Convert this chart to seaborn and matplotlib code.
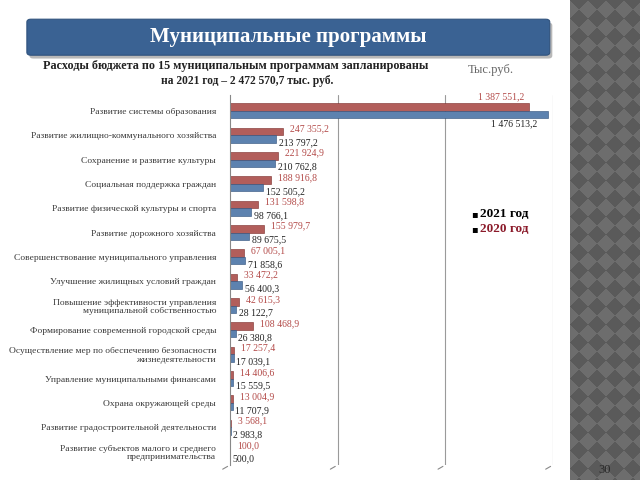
import numpy as np
import pandas as pd
import seaborn as sns
import matplotlib.pyplot as plt
from matplotlib.patches import FancyBboxPatch

categories = [
    "Развитие системы образования",
    "Развитие жилищно-коммунального хозяйства",
    "Сохранение и развитие культуры",
    "Социальная поддержка граждан",
    "Развитие физической культуры и спорта",
    "Развитие дорожного хозяйства",
    "Совершенствование муниципального управления",
    "Улучшение жилищных условий граждан",
    "Повышение эффективности управления\nмуниципальной собственностью",
    "Формирование современной городской среды",
    "Осуществление мер по обеспечению безопасности\nжизнедеятельности",
    "Управление муниципальными финансами",
    "Охрана окружающей среды",
    "Развитие градостроительной деятельности",
    "Развитие субъектов малого и среднего\nпредпринимательства",
]
values_2020 = [1387551.2, 247355.2, 221924.9, 188916.8, 131598.8, 155979.7, 67005.1,
               33472.2, 42615.3, 108468.9, 17257.4, 14406.6, 13004.9, 3568.1, 100.0]
values_2021 = [1476513.2, 213797.2, 210762.8, 152505.2, 98766.1, 89675.5, 71858.6,
               56400.3, 28122.7, 26380.8, 17039.1, 15559.5, 11707.9, 2983.8, 500.0]
years = ["2020 год", "2021 год"]

df = pd.DataFrame({
    "cat": categories * 2,
    "value": values_2020 + values_2021,
    "year": [years[0]] * len(categories) + [years[1]] * len(categories),
})

def fmt(v):
    return f"{v:,.1f}".replace(",", " ").replace(".", ",")

serif = ["Liberation Serif", "DejaVu Serif"]
sns.set_style("white")
plt.rcParams["font.family"] = serif

fig = plt.figure(figsize=(6.4, 4.8), dpi=100)
fig.patch.set_facecolor("white")

# slide banner
shadow = FancyBboxPatch((0.046, 0.878), 0.817, 0.075, boxstyle="round,pad=0,rounding_size=0.006",
                        transform=fig.transFigure, facecolor="#8a8a8a", edgecolor="none", alpha=0.6)
banner = FancyBboxPatch((0.042, 0.885), 0.817, 0.075, boxstyle="round,pad=0,rounding_size=0.006",
                        transform=fig.transFigure, facecolor="#3a6293", edgecolor="#2f527d", lw=0.8)
fig.patches.extend([shadow, banner])
fig.text(0.45, 0.922, "Муниципальные программы", color="white", fontsize=15,
         fontweight="bold", ha="center", va="center")
fig.text(236 / 640, 1 - 66 / 480, "Расходы бюджета по 15 муниципальным программам запланированы",
         fontsize=8.7, fontweight="bold", ha="center", va="center", color="#222222")
fig.text(247 / 640, 1 - 81 / 480, "на 2021 год – 2 472 570,7 тыс. руб.",
         fontsize=8.3, fontweight="bold", ha="center", va="center", color="#222222")
fig.text(491 / 640, 1 - 70 / 480, "Тыс.руб.", fontsize=9, ha="center", va="center", color="#666666")

# decorative right panel
pax = fig.add_axes([570 / 640, 0, 70 / 640, 1])
yy, xx = np.mgrid[0:480, 0:70]
pattern = (((xx + yy) // 18) + ((xx - yy) // 18)) % 2
pax.imshow(pattern, cmap=plt.matplotlib.colors.ListedColormap(["#5a5a5a", "#6d6d6d"]),
           aspect="auto", interpolation="nearest")
pax.axis("off")
fig.text(605 / 640, 1 - 470 / 480, "30", fontsize=9, color="#2a2a2a", ha="center", va="center")

# main chart
ax = fig.add_axes([230 / 640, 15 / 480, 323 / 640, 370 / 480])
sns.barplot(data=df, y="cat", x="value", hue="year", hue_order=years, orient="h",
            palette=["#c0504d", "#4f81bd"], width=0.62, ax=ax, legend=False,
            edgecolor="#7a2a28", linewidth=0.4)
for bar in ax.patches[len(categories):]:
    bar.set_edgecolor("#2c4d7a")

ax.set_xlim(0, 1500000)
ax.set_ylim(len(categories) - 0.45, -0.65)
ax.set_xlabel("")
ax.set_ylabel("")
ax.set_xticks([500000, 1000000, 1500000])
ax.set_xticklabels([])
ax.tick_params(axis="x", length=0)
ax.grid(axis="x", color="#9a9a9a", lw=0.8)
ax.set_yticks(range(len(categories)))
ax.set_yticklabels(categories, fontsize=6.8, color="#3a3a3a", linespacing=1.1)
ax.tick_params(axis="y", length=0, pad=10)
ax.set_yticks(np.arange(-0.5, len(categories), 1), minor=True)
ax.tick_params(axis="y", which="minor", length=4, direction="out", color="#888888")
for s in ["top", "right", "bottom"]:
    ax.spines[s].set_visible(False)
ax.spines["left"].set_color("#888888")
ax.spines["left"].set_linewidth(0.8)

# floor slants at the bottom of the walls
for xv in [0, 500000, 1000000, 1500000]:
    ax.annotate("", xy=(xv, len(categories) - 0.45), xytext=(-7, -4), textcoords="offset points",
                arrowprops=dict(arrowstyle="-", color="#888888", lw=0.8), annotation_clip=False)

# value labels
for i in range(len(categories)):
    v0, v1 = values_2020[i], values_2021[i]
    if v1 > 1000000:
        ax.text(v0 - 20000, i - 0.38, fmt(v0), fontsize=7, color="#b34a48", ha="right", va="bottom")
        ax.text(v1 - 50000, i + 0.36, fmt(v1), fontsize=7, color="#222222", ha="right", va="top")
    else:
        ax.annotate(fmt(v0), (v0, i - 0.2), xytext=(5, 1), textcoords="offset points",
                    fontsize=7, color="#b34a48", va="center")
        ax.annotate(fmt(v1), (v1, i + 0.2), xytext=(2, -2), textcoords="offset points",
                    fontsize=7, color="#222222", va="center")

# legend as slide text
fig.text(471 / 640, 1 - 214 / 480, "▪", fontsize=7, color="black", va="center",
         family=["DejaVu Sans"])
fig.text(480 / 640, 1 - 214 / 480, "2021 год", fontsize=9.5, fontweight="bold", color="black",
         va="center")
fig.text(471 / 640, 1 - 229 / 480, "▪", fontsize=7, color="black", va="center",
         family=["DejaVu Sans"])
fig.text(480 / 640, 1 - 229 / 480, "2020 год", fontsize=9.5, fontweight="bold", color="#8b1a2a",
         va="center")

fig.savefig("out.png", dpi=100)
